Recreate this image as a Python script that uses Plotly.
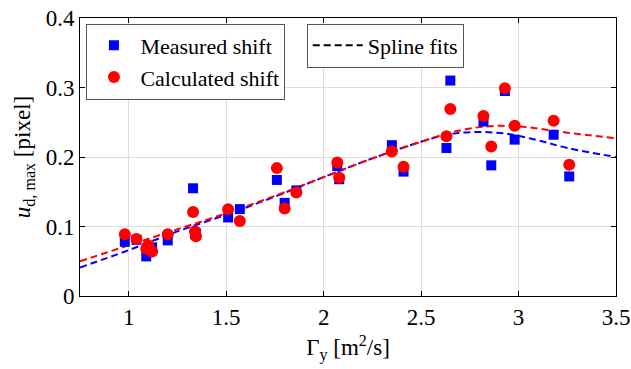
import plotly.graph_objects as go

# Circulation values of each case [m^2/s]
gamma = [0.98, 1.04, 1.09, 1.10, 1.12, 1.20, 1.33, 1.34, 1.345, 1.51, 1.57,
         1.76, 1.80, 1.86, 2.07, 2.08, 2.35, 2.41, 2.63, 2.65, 2.82, 2.86,
         2.93, 2.98, 3.18, 3.26]

# Maximum displacement [pixel]
measured = [0.078, 0.081, 0.057, 0.068, 0.070, 0.080, 0.155, 0.089, 0.090,
            0.113, 0.125, 0.167, 0.134, 0.152, 0.187, 0.168, 0.217, 0.179,
            0.213, 0.310, 0.251, 0.188, 0.295, 0.225, 0.232, 0.172]
calculated = [0.089, 0.082, 0.068, 0.073, 0.064, 0.089, 0.121, 0.093, 0.086,
              0.125, 0.108, 0.184, 0.126, 0.149, 0.192, 0.170, 0.208, 0.186,
              0.230, 0.269, 0.259, 0.215, 0.299, 0.245, 0.252, 0.189]

# Smoothing-spline fits
fit_x = [0.75, 1.0, 1.25, 1.5, 1.75, 2.0, 2.25, 2.5, 2.65, 2.8, 2.95, 3.1,
         3.25, 3.5]
fit_measured = [0.041, 0.066, 0.093, 0.117, 0.143, 0.171, 0.198, 0.222,
                0.233, 0.236, 0.233, 0.224, 0.213, 0.200]
fit_calculated = [0.050, 0.073, 0.096, 0.119, 0.144, 0.171, 0.198, 0.222,
                  0.235, 0.243, 0.245, 0.241, 0.235, 0.227]

x_ticks = [1, 1.5, 2, 2.5, 3, 3.5]
x_tick_text = ["1", "1.5", "2", "2.5", "3", "3.5"]
y_ticks = [0, 0.1, 0.2, 0.3, 0.4]
y_tick_text = ["0", "0.1", "0.2", "0.3", "0.4"]

FONT = "Liberation Serif"
BLUE = "#0000ff"
RED = "#ff0000"

fig = go.Figure()

fig.add_trace(go.Scatter(x=fit_x, y=fit_measured, mode="lines",
                         line=dict(color=BLUE, width=2, dash="7px,4px", shape="spline"),
                         showlegend=False, hoverinfo="skip"))
fig.add_trace(go.Scatter(x=fit_x, y=fit_calculated, mode="lines",
                         line=dict(color=RED, width=2, dash="7px,4px", shape="spline"),
                         showlegend=False, hoverinfo="skip"))

fig.add_trace(go.Scatter(x=gamma, y=measured, mode="markers", name="Measured shift",
                         marker=dict(symbol="square", size=10, color=BLUE,
                                     line=dict(width=0)),
                         legend="legend"))
fig.add_trace(go.Scatter(x=gamma, y=calculated, mode="markers", name="Calculated shift",
                         marker=dict(symbol="circle", size=12, color=RED,
                                     line=dict(width=0)),
                         legend="legend"))

# Legend-only entry for the fitted curves
fig.add_trace(go.Scatter(x=[None], y=[None], mode="lines", name="Spline fits",
                         line=dict(color="black", width=2, dash="7px,4px"),
                         legend="legend2"))

axis_common = dict(
    showline=True, linecolor="black", linewidth=1, mirror="allticks",
    ticks="inside", ticklen=5, tickwidth=1, tickcolor="black",
    showgrid=True, gridcolor="#dcdcdc", gridwidth=1, zeroline=False,
    automargin=False,
    tickfont=dict(family=FONT, size=23, color="black"),
)

fig.update_layout(
    width=631, height=369,
    margin=dict(l=80, r=15, t=18, b=73),
    paper_bgcolor="white", plot_bgcolor="white",
    font=dict(family=FONT, size=23, color="black"),
    xaxis=dict(range=[0.75, 3.5], tickvals=x_ticks, ticktext=x_tick_text,
               title=dict(text="Γ<sub>y</sub> [m<sup>2</sup>/s]",
                          font=dict(family=FONT, size=23), standoff=10),
               **axis_common),
    yaxis=dict(range=[0, 0.4], tickvals=y_ticks, ticktext=y_tick_text,
               title=dict(text="<i>u</i><sub>d, max</sub> [pixel]",
                          font=dict(family=FONT, size=23), standoff=8),
               **axis_common),
    legend=dict(x=0.012, y=0.98, xanchor="left", yanchor="top",
                bgcolor="white", bordercolor="#555555", borderwidth=1,
                font=dict(family=FONT, size=22), tracegroupgap=0,
                itemwidth=43),
    legend2=dict(x=0.423, y=0.98, xanchor="left", yanchor="top",
                 bgcolor="white", bordercolor="#555555", borderwidth=1,
                 font=dict(family=FONT, size=22), itemwidth=50),
)

fig.write_html("out.html")
